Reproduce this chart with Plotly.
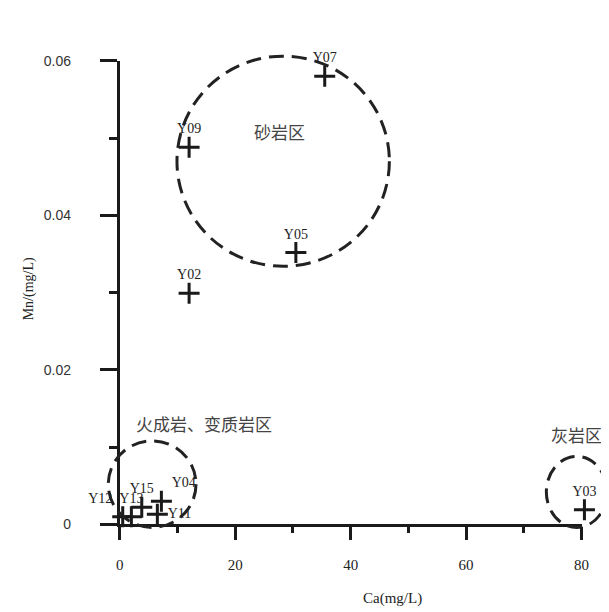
import plotly.graph_objects as go

# ---- data ----
samples = ['Y07', 'Y09', 'Y05', 'Y02', 'Y04', 'Y15', 'Y11', 'Y12', 'Y13', 'Y03']
ca = [35.5, 12.0, 30.5, 12.0, 7.2, 3.8, 6.5, 0.5, 2.0, 80.5]
mn = [0.0580, 0.0488, 0.0352, 0.0299, 0.0030, 0.0022, 0.0013, 0.0010, 0.0010, 0.0019]
label_pos = ['top center', 'top center', 'top center', 'top center', 'top right',
             'top center', 'middle right', 'top left', 'top center', 'top center']

x_ticks = [0, 20, 40, 60, 80]
x_minor = [10, 30, 50, 70]
y_ticks = [0, 0.02, 0.04, 0.06]
y_ticktext = ['0', '0.02', '0.04', '0.06']
y_minor = [0.01, 0.03, 0.05]

zone_names = ['砂岩区', '火成岩、变质岩区', '灰岩区']
zone_x0 = [9.9, -2.0, 73.9]
zone_x1 = [46.7, 13.2, 84.4]
zone_y0 = [0.0334, -0.0004, -0.0004]
zone_y1 = [0.0606, 0.0108, 0.0088]
zone_label_x = [27.6, 14.6, 79.2]
zone_label_y = [0.0509, 0.0131, 0.0116]

x_title = 'Ca(mg/L)'
y_title = 'Mn/(mg/L)'

# ---- layout geometry ----
W, H = 609, 612
x_range = [0, 80]
y_range = [0, 0.06]
xd = [110 / W, 581 / W]
yd = [(H - 522) / H, (H - 46) / H]

def full_range(r, d):
    span = (r[1] - r[0]) / (d[1] - d[0])
    lo = r[0] - d[0] * span
    return [lo, lo + span]

big_x = full_range(x_range, xd)
big_y = full_range(y_range, yd)

ink = '#1a1a1a'
serif = 'Liberation Serif'
cjk = 'Noto Sans CJK SC'

fig = go.Figure()

fig.add_trace(go.Scatter(
    x=ca, y=mn, mode='markers+text', text=samples, textposition=label_pos,
    marker=dict(symbol='cross-thin', size=15, color=ink, line=dict(width=3, color=ink)),
    textfont=dict(family=serif, size=14, color='#222'),
    cliponaxis=False, showlegend=False, hoverinfo='skip',
    xaxis='x', yaxis='y'))

# carrier for the visible axes
fig.add_trace(go.Scatter(x=[None], y=[None], xaxis='x2', yaxis='y2',
                         showlegend=False, hoverinfo='skip'))

for i in range(len(zone_names)):
    fig.add_shape(type='circle', xref='x', yref='y',
                  x0=zone_x0[i], x1=zone_x1[i], y0=zone_y0[i], y1=zone_y1[i],
                  line=dict(color='#222', width=3, dash='15px,8px'))
    fig.add_annotation(x=zone_label_x[i], y=zone_label_y[i], xref='x', yref='y',
                       text=zone_names[i], showarrow=False,
                       font=dict(family=cjk, size=17, color='#444'))

fig.add_annotation(x=47.2, xref='x2', y=(H - 598) / H, yref='paper', text=x_title,
                   showarrow=False, yanchor='middle',
                   font=dict(family=serif, size=15, color='#222'))
fig.add_annotation(x=17 / W, xref='paper', y=0.0305, yref='y2', text=y_title,
                   textangle=-90, showarrow=False, xanchor='center',
                   font=dict(family=serif, size=14, color='#222'))

fig.update_layout(
    width=W, height=H, autosize=False,
    margin=dict(l=0, r=0, t=0, b=0),
    paper_bgcolor='white', plot_bgcolor='rgba(0,0,0,0)',
    showlegend=False,
    xaxis=dict(domain=[0, 1], range=big_x, visible=False, fixedrange=True),
    yaxis=dict(domain=[0, 1], range=big_y, visible=False, fixedrange=True),
    xaxis2=dict(domain=xd, range=x_range, anchor='y2', showline=True, linewidth=3,
                linecolor=ink, showgrid=False, zeroline=False,
                tickvals=x_ticks, ticks='outside', ticklen=13, tickwidth=3, tickcolor=ink,
                minor=dict(tickvals=x_minor, ticks='outside', ticklen=6, tickwidth=3,
                           tickcolor=ink, showgrid=False),
                tickfont=dict(family=serif, size=15, color='#222'),
                ticklabelstandoff=12, fixedrange=True),
    yaxis2=dict(domain=yd, range=y_range, anchor='x2', showline=True, linewidth=3,
                linecolor=ink, showgrid=False, zeroline=False,
                tickvals=y_ticks, ticktext=y_ticktext, ticks='outside', ticklen=17,
                tickwidth=3, tickcolor=ink,
                minor=dict(tickvals=y_minor, ticks='outside', ticklen=8, tickwidth=3,
                           tickcolor=ink, showgrid=False),
                tickfont=dict(family='Liberation Sans', size=14, color='#333'),
                ticklabelstandoff=26, fixedrange=True),
)

fig.write_html('out.html')
